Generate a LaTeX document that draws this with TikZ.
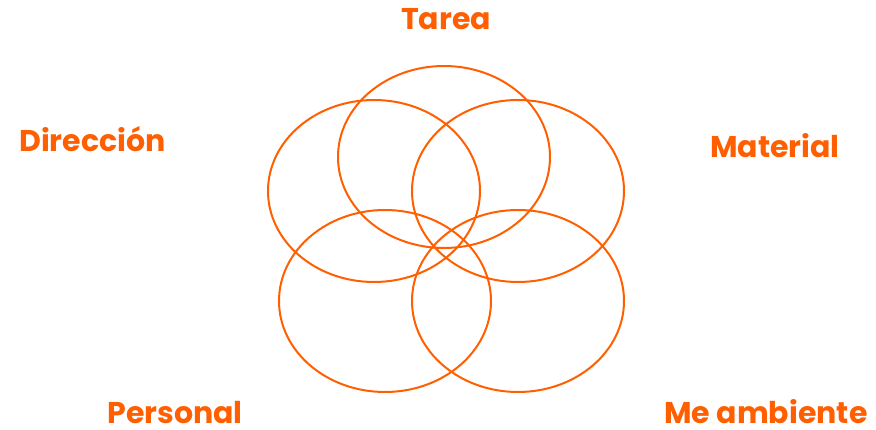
\documentclass[tikz,border=0pt]{standalone}
\usepackage{fontspec}
\setmainfont{Poppins}
\definecolor{orng}{RGB}{255,95,0}
\begin{document}
\begin{tikzpicture}[x=1pt,y=-1pt,
  ring/.style={draw=orng,line width=2pt},
  lbl/.style={text=orng,font=\fontsize{30}{36}\selectfont\bfseries,anchor=base,inner sep=0pt,text depth=0pt}]
\useasboundingbox (0,0) rectangle (876,430);
\draw[ring] (444,157) ellipse [x radius=106,y radius=91];
\draw[ring] (374,191) ellipse [x radius=106,y radius=91];
\draw[ring] (518,191) ellipse [x radius=106,y radius=91];
\draw[ring] (385,301) ellipse [x radius=106,y radius=91];
\draw[ring] (518,301) ellipse [x radius=106,y radius=91];
\node[lbl] (tarea) at (446,30) {Tarea};
\node[lbl] (dir) at (92.5,152) {Dirección};
\node[lbl] (mat) at (775,158) {Material};
\node[lbl] (pers) at (175,423) {Personal};
\node[lbl] (amb) at (766,423) {Me ambiente};
\end{tikzpicture}
\end{document}
